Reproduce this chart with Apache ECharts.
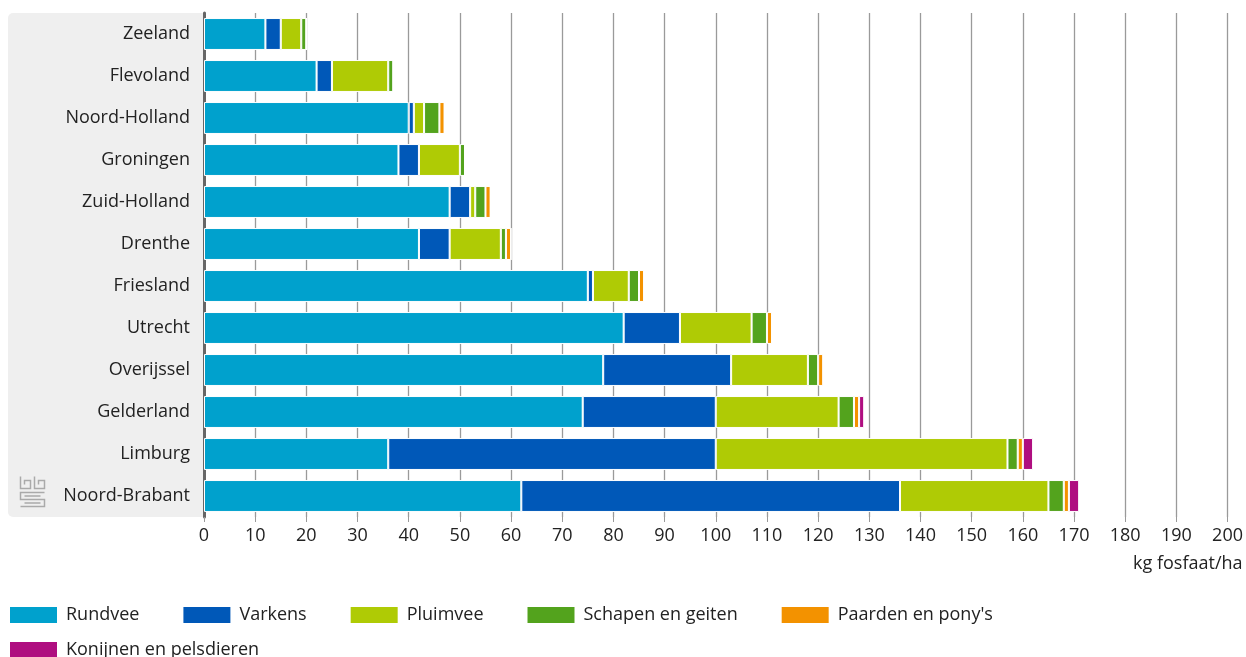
<!DOCTYPE html>
<html><head><meta charset="utf-8">
<script src="https://cdn.jsdelivr.net/npm/echarts@6/dist/echarts.min.js"></script>
<style>html,body{margin:0;padding:0;background:#fff}#c{width:1246px;height:657px}</style>
</head><body><div id="c"></div>
<script>
const provinces = ['Zeeland','Flevoland','Noord-Holland','Groningen','Zuid-Holland','Drenthe','Friesland','Utrecht','Overijssel','Gelderland','Limburg','Noord-Brabant'];
const rundvee   = [12, 22, 40, 38, 48, 42, 75, 82, 78, 74, 36, 62];
const varkens   = [ 3,  3,  1,  4,  4,  6,  1, 11, 25, 26, 64, 74];
const pluimvee  = [ 4, 11,  2,  8,  1, 10,  7, 14, 15, 24, 57, 29];
const schapen   = [ 1,  1,  3,  1,  2,  1,  2,  3,  2,  3,  2,  3];
const paarden   = [ 0,  0,  1,  0,  1,  1,  1,  1,  1,  1,  1,  1];
const konijnen  = [ 0,  0,  0,  0,  0,  0,  0,  0,  0,  1,  2,  2];
const xTicks = [0,10,20,30,40,50,60,70,80,90,100,110,120,130,140,150,160,170,180,190,200];
const seriesNames = ['Rundvee','Varkens','Pluimvee','Schapen en geiten',"Paarden en pony's",'Konijnen en pelsdieren'];
const seriesData = [rundvee, varkens, pluimvee, schapen, paarden, konijnen];
const colors = ['#00a1cd','#0058b8','#afcb05','#53a31d','#f39200','#af0e80'];
const FONT = 'Open Sans';

const chart = echarts.init(document.getElementById('c'));
const series = seriesNames.map((n,i)=>({
  name:n, type:'bar', stack:'t', data:seriesData[i], barCategoryGap:'24%',
  itemStyle:{color:colors[i], borderColor:'#ffffff', borderWidth:1},
  z:3
}));
const legendText = {fontFamily:FONT, fontSize:18, color:'#222', padding:[0,0,0,3]};
chart.setOption({
  animation:false,
  color:colors,
  textStyle:{fontFamily:FONT},
  grid:{left:204, right:18, top:13, bottom:140},
  graphic:[
    {type:'rect', left:8, top:13, z:-10, shape:{width:196, height:504, r:[5,0,0,5]}, style:{fill:'#efefef'}},
    {type:'group', left:18, top:474, z:5, children:[
      {type:'polyline', shape:{points:[[0,0],[0,12],[10,12],[10,4],[4,4],[4,8]]}, style:{stroke:'#aaaaaa', fill:null, lineWidth:1.5}},
      {type:'polyline', shape:{points:[[14,0],[14,12],[24,12],[24,4],[18,4],[18,8]]}, style:{stroke:'#aaaaaa', fill:null, lineWidth:1.5}},
      {type:'polyline', shape:{points:[[24,16],[0,16],[0,23],[24,23],[24,30],[0,30]]}, style:{stroke:'#aaaaaa', fill:null, lineWidth:1.5}},
      {type:'polyline', shape:{points:[[20,19.5],[4,19.5]]}, style:{stroke:'#aaaaaa', fill:null, lineWidth:1.5}},
      {type:'polyline', shape:{points:[[4,26.5],[20,26.5]]}, style:{stroke:'#aaaaaa', fill:null, lineWidth:1.5}}
    ]}
  ],
  xAxis:{
    type:'value', min:0, max:200, interval:10,
    name:'kg fosfaat/ha', nameLocation:'end',
    nameTextStyle:{fontFamily:FONT, fontSize:18, color:'#222', align:'right', verticalAlign:'top', padding:[38,0,0,0]},
    axisLine:{show:false},
    axisTick:{show:true, length:5, lineStyle:{color:'#999'}},
    axisLabel:{fontFamily:FONT, fontSize:18, color:'#222', margin:10,
      formatter:(v)=> xTicks.indexOf(v)>=0 ? String(v) : ''},
    splitLine:{show:true, lineStyle:{color:'#9a9a9a', width:1.3}}
  },
  yAxis:{
    type:'category', data:provinces, inverse:true,
    axisLine:{show:true, lineStyle:{color:'#666', width:3}},
    axisTick:{show:false},
    axisLabel:{fontFamily:FONT, fontSize:18, color:'#222', margin:14}
  },
  legend:[
    {data:seriesNames.slice(0,5), left:8, top:605, padding:0, itemWidth:49, itemHeight:18, itemGap:42,
     icon:'rect', textStyle:legendText, selectedMode:false},
    {data:seriesNames.slice(5), left:8, top:640, padding:0, itemWidth:49, itemHeight:18, itemGap:42,
     icon:'rect', textStyle:legendText, selectedMode:false}
  ],
  series:series
});
</script></body></html>
